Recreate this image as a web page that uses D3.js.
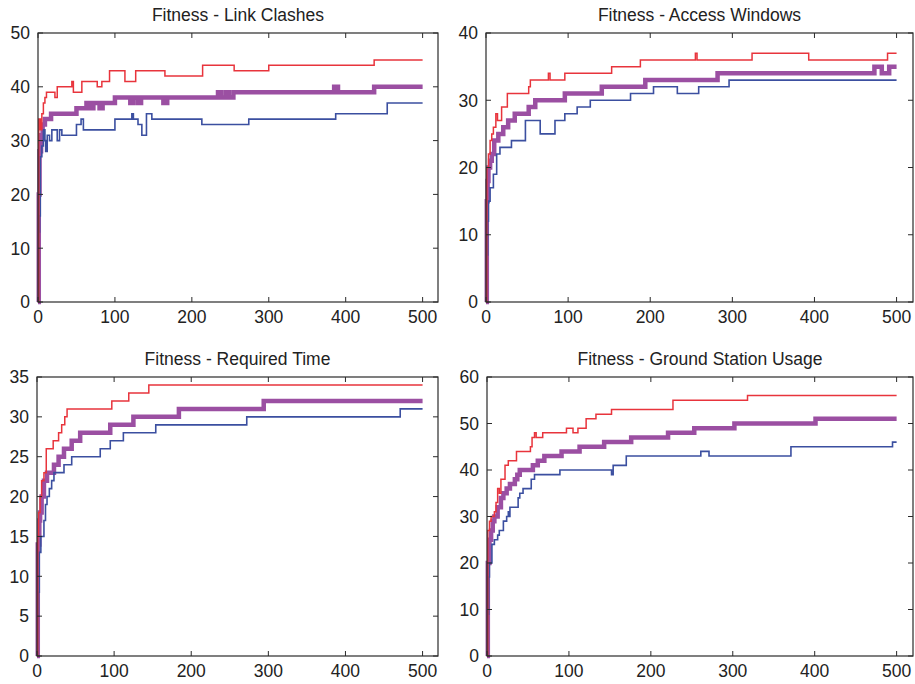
<!DOCTYPE html>
<html>
<head>
<meta charset="utf-8">
<script src="https://cdnjs.cloudflare.com/ajax/libs/d3/7.8.5/d3.min.js"></script>
<style>
body { margin: 0; background: #fff; }
text { font-family: "Liberation Sans", Arial, sans-serif; fill: #222; }
</style>
</head>
<body>
<div id="chart"></div>
<script>
// panel titles and y ranges
var titles = ["Fitness - Link Clashes", "Fitness - Access Windows", "Fitness - Required Time", "Fitness - Ground Station Usage"]
var yMaxes = [50, 40, 35, 60]
var yTickSteps = [10, 10, 5, 10]
var xTicks = [0, 100, 200, 300, 400, 500]
var xMax = 520
var lastGen = 500

// [generation, fitness] change points, steps held until the next one
var linkMax = [[0,0],[1,34],[3,32],[5,35],[7,37],[9,38],[11,39],[22,38],[25,40],[44,41],[46,39],[57,41],[77,40],[83,41],[93,43],[113,41],[127,43],[165,42],[214,44],[255,43],[300,44],[437,45]]
var linkMean = [[0,0],[1,20],[2,28],[4,31],[6,33],[9,34],[17,35],[50,36],[63,37],[68,36],[72,37],[80,36],[84,37],[100,38],[120,37],[124,38],[130,37],[134,38],[163,37],[168,38],[234,39],[238,38],[244,39],[248,38],[254,39],[385,40],[390,39],[437,40]]
var linkMin = [[0,0],[1,13],[2,16],[3,27],[5,29],[7,32],[9,30],[10,28],[12,31],[15,30],[18,32],[25,30],[28,32],[31,31],[50,33],[56,34],[59,32],[100,34],[122,35],[124,34],[130,33],[135,31],[141,35],[148,34],[213,33],[274,34],[387,35],[454,37]]

var accessMax = [[0,0],[1,20],[3,22],[5,24],[7,25],[9,26],[12,28],[14,27],[17,27],[19,29],[26,31],[52,32],[54,33],[76,34],[78,33],[96,34],[153,35],[188,36],[255,37],[257,36],[324,37],[393,36],[489,37]]
var accessMean = [[0,0],[1,15],[2,18],[3,20],[5,21],[7,22],[10,24],[15,25],[21,26],[27,27],[35,28],[52,29],[60,30],[96,31],[141,32],[194,33],[282,34],[473,35],[482,34],[491,35]]
var accessMin = [[0,0],[1,7],[2,12],[3,15],[5,17],[9,19],[13,22],[17,23],[31,24],[48,27],[66,25],[84,27],[96,28],[111,29],[127,30],[176,31],[204,32],[233,31],[259,32],[296,33]]

var timeMax = [[0,0],[1,15],[2,18],[4,20],[6,22],[9,23],[12,26],[21,27],[28,28],[32,29],[36,30],[39,31],[97,32],[119,33],[145,34]]
var timeMean = [[0,0],[1,14],[3,17],[4,18],[6,20],[9,22],[13,23],[22,24],[28,25],[35,26],[45,27],[56,28],[95,29],[125,30],[184,31],[294,32]]
var timeMin = [[0,0],[1,5],[2,8],[3,13],[5,15],[9,17],[11,19],[13,20],[16,21],[19,22],[22,23],[35,24],[45,25],[82,26],[95,27],[112,28],[154,29],[272,30],[471,31]]

var groundMax = [[0,0],[1,27],[3,29],[5,30],[9,31],[11,33],[13,36],[15,35],[17,38],[22,41],[26,42],[36,44],[53,45],[55,47],[58,48],[60,47],[68,48],[97,49],[105,48],[111,49],[121,51],[133,52],[152,53],[227,55],[318,56]]
var groundMean = [[0,0],[1,20],[3,25],[5,27],[7,29],[9,30],[13,32],[17,34],[20,35],[24,36],[28,37],[34,38],[37,39],[40,40],[56,41],[62,42],[70,43],[91,44],[113,45],[143,46],[176,47],[221,48],[253,49],[302,50],[401,51]]
var groundMin = [[0,0],[1,9],[2,17],[3,20],[6,24],[9,25],[13,26],[15,27],[20,29],[24,30],[26,31],[27,30],[28,32],[38,34],[40,35],[44,36],[54,38],[58,39],[89,40],[152,39],[154,41],[170,43],[261,44],[271,43],[371,45],[495,46]]

var seriesByPanel = [
    [linkMean, linkMin, linkMax],
    [accessMean, accessMin, accessMax],
    [timeMean, timeMin, timeMax],
    [groundMean, groundMin, groundMax]
]

var lineStyles = [
    {color: "#9b4fa2", width: 4.5},
    {color: "#3b4fa0", width: 1.6},
    {color: "#e8343c", width: 1.5}
]

var boxes = [
    {left: 38, top: 33, right: 438, bottom: 302},
    {left: 486, top: 33, right: 913, bottom: 302},
    {left: 37, top: 377, right: 438, bottom: 656},
    {left: 487, top: 377, right: 913, bottom: 656}
]

var svg = d3.select("#chart").append("svg").attr("width", 915).attr("height", 684)

for (var i = 0; i < 4; i++) {
    drawPanel(i)
}

function drawPanel(i) {
    var b = boxes[i]
    var x = d3.scaleLinear().domain([0, xMax]).range([b.left, b.right])
    var y = d3.scaleLinear().domain([0, yMaxes[i]]).range([b.bottom, b.top])
    var yTicks = d3.range(0, yMaxes[i] + 0.1, yTickSteps[i])
    var g = svg.append("g")

    var line = d3.line()
        .x(function(d) { return x(d[0]) })
        .y(function(d) { return y(d[1]) })
        .curve(d3.curveStepAfter)

    seriesByPanel[i].forEach(function(s, k) {
        var pts = s.concat([[lastGen, s[s.length - 1][1]]])
        g.append("path")
            .attr("d", line(pts))
            .attr("fill", "none")
            .attr("stroke", lineStyles[k].color)
            .attr("stroke-width", lineStyles[k].width)
            .attr("stroke-linejoin", "miter")
    })

    // box frame
    g.append("rect")
        .attr("x", b.left).attr("y", b.top)
        .attr("width", b.right - b.left).attr("height", b.bottom - b.top)
        .attr("fill", "none").attr("stroke", "#2a2a2a").attr("stroke-width", 1.2)

    // inward ticks on all four sides
    var tl = 5
    xTicks.forEach(function(t) {
        g.append("line").attr("x1", x(t)).attr("x2", x(t)).attr("y1", b.bottom).attr("y2", b.bottom - tl).attr("stroke", "#2a2a2a")
        g.append("line").attr("x1", x(t)).attr("x2", x(t)).attr("y1", b.top).attr("y2", b.top + tl).attr("stroke", "#2a2a2a")
        g.append("text").attr("x", x(t)).attr("y", b.bottom + 21)
            .attr("text-anchor", "middle").attr("font-size", 17.5).text(t)
    })
    yTicks.forEach(function(t) {
        g.append("line").attr("x1", b.left).attr("x2", b.left + tl).attr("y1", y(t)).attr("y2", y(t)).attr("stroke", "#2a2a2a")
        g.append("line").attr("x1", b.right).attr("x2", b.right - tl).attr("y1", y(t)).attr("y2", y(t)).attr("stroke", "#2a2a2a")
        g.append("text").attr("x", b.left - 8).attr("y", y(t)).attr("dy", "0.36em")
            .attr("text-anchor", "end").attr("font-size", 17.5).text(t)
    })

    g.append("text")
        .attr("x", (b.left + b.right) / 2).attr("y", b.top - 12)
        .attr("text-anchor", "middle").attr("font-size", 17.5)
        .text(titles[i])
}
</script>
</body>
</html>
